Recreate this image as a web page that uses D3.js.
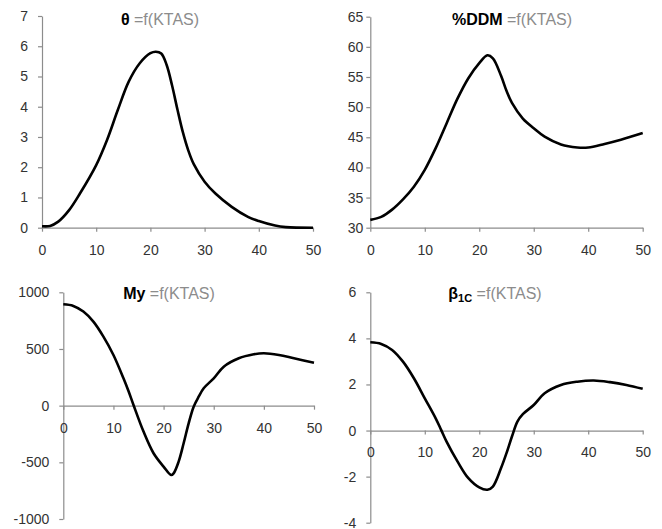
<!DOCTYPE html>
<html>
<head>
<meta charset="utf-8">
<script src="https://cdn.jsdelivr.net/npm/d3@7"></script>
<style>
  body { margin: 0; background: #fff; }
  svg { display: block; font-family: "Liberation Sans", Arial, sans-serif; }
</style>
</head>
<body>
<svg width="662" height="529"></svg>
<script>
// KTAS tick labels shared by all panels
const xTicks = [0, 10, 20, 30, 40, 50];

// theta = f(KTAS)
const thetaX = [0, 1.5, 3, 5, 7, 10, 12, 14, 16, 18, 20, 21, 22, 23, 24, 25, 26, 27, 28, 30, 32, 35, 38, 40, 43, 45, 50];
const thetaY = [0.05, 0.06, 0.2, 0.58, 1.13, 2.07, 2.9, 3.9, 4.83, 5.43, 5.77, 5.82, 5.76, 5.38, 4.7, 3.9, 3.15, 2.55, 2.1, 1.52, 1.13, 0.69, 0.36, 0.22, 0.07, 0.02, 0];
const thetaTicks = [0, 1, 2, 3, 4, 5, 6, 7];

// %DDM = f(KTAS)
const ddmX = [0, 2, 4, 6, 8, 10, 12, 14, 16, 18, 20, 21.5, 22.5, 24, 25, 26, 28, 30, 32, 35, 38, 40, 43, 46, 50];
const ddmY = [31.3, 31.8, 33.0, 34.7, 36.8, 39.6, 43.2, 47.3, 51.4, 54.8, 57.3, 58.6, 58.1, 55.2, 52.7, 50.7, 48.1, 46.5, 45.1, 43.8, 43.3, 43.3, 43.9, 44.6, 45.7];
const ddmTicks = [30, 35, 40, 45, 50, 55, 60, 65];

// My = f(KTAS)
const myX = [0, 2, 4, 6, 8, 10, 12, 13, 14, 16, 18, 20, 21.5, 22, 23, 24, 25, 26, 27, 28, 30, 32, 35, 38, 40, 43, 46, 50];
const myY = [894, 880, 830, 741, 609, 447, 241, 129, 6, -229, -420, -538, -612, -597, -494, -332, -156, -9, 79, 153, 241, 344, 418, 453, 462, 447, 418, 379];
const myTicks = [-1000, -500, 0, 500, 1000];

// beta1c = f(KTAS)
const betaX = [0, 2, 4, 6, 8, 10, 12, 13, 14, 16, 18, 20, 21.5, 22.5, 24, 25, 26, 27, 28, 30, 32, 35, 38, 41, 44, 47, 50];
const betaY = [3.83, 3.76, 3.5, 2.99, 2.27, 1.4, 0.53, 0.03, -0.48, -1.34, -2.07, -2.47, -2.57, -2.43, -1.63, -0.98, -0.26, 0.39, 0.71, 1.11, 1.62, 1.98, 2.12, 2.17, 2.1, 1.98, 1.81];
const betaTicks = [-4, -2, 0, 2, 4, 6];

const AXIS = '#8c8c8c';
const LABEL = '#333';
const SUB = '#8c8c8c';

const svg = d3.select("svg");
svg.append("rect").attr("width", 662).attr("height", 529).attr("fill", "#fff");

const panels = [
  { xs: thetaX, ys: thetaY, ticks: thetaTicks, x0: 42, x1: 313, yTop: 16, yBot: 227.7, yPad: 10,
    title: ["θ"], tx: 160, ty: 25 },
  { xs: ddmX, ys: ddmY, ticks: ddmTicks, x0: 370.3, x1: 642.7, yTop: 16.7, yBot: 227.7, yPad: 3,
    title: ["%DDM"], tx: 512, ty: 25 },
  { xs: myX, ys: myY, ticks: myTicks, x0: 63.3, x1: 314, yTop: 292.3, yBot: 519, yPad: 10,
    title: ["My"], tx: 169, ty: 299 },
  { xs: betaX, ys: betaY, ticks: betaTicks, x0: 370.3, x1: 642.7, yTop: 292.3, yBot: 522.7, yPad: 10,
    title: ["β", "1C"], tx: 495, ty: 299 }
];

const fmt = d => String(d);

panels.forEach(p => {
  const x = d3.scaleLinear().domain([0, 50]).range([p.x0, p.x1]);
  const y = d3.scaleLinear().domain(d3.extent(p.ticks)).range([p.yBot, p.yTop]);
  const g = svg.append("g");

  // y axis
  const ya = g.append("g")
    .attr("transform", `translate(${p.x0},0)`)
    .call(d3.axisLeft(y).tickValues(p.ticks).tickFormat(fmt)
      .tickSize(4).tickPadding(p.yPad).tickSizeOuter(0));
  // x axis sits on zero (or on the bottom for positive-only ranges)
  const xa = g.append("g")
    .attr("transform", `translate(0,${y(Math.max(0, p.ticks[0]))})`)
    .call(d3.axisBottom(x).tickValues(xTicks).tickFormat(fmt)
      .tickSize(4).tickPadding(13).tickSizeOuter(0));

  [ya, xa].forEach(a => {
    a.select(".domain").attr("stroke", AXIS).attr("stroke-width", 1.2);
    a.selectAll(".tick line").attr("stroke", AXIS).attr("stroke-width", 1.2);
    a.selectAll(".tick text").attr("fill", LABEL).style("font-size", "14px")
      .style("font-family", "\"Liberation Sans\", Arial, sans-serif");
  });

  // curve
  const line = d3.line()
    .x((d, i) => x(p.xs[i]))
    .y(d => y(d))
    .curve(d3.curveCatmullRom.alpha(0.5));
  g.append("path")
    .datum(p.ys)
    .attr("d", line)
    .attr("fill", "none")
    .attr("stroke", "#000")
    .attr("stroke-width", 2.6)
    .attr("stroke-linejoin", "round");

  // title
  const t = g.append("text")
    .attr("x", p.tx).attr("y", p.ty)
    .attr("text-anchor", "middle")
    .style("font-size", "16px");
  t.append("tspan").attr("font-weight", "bold").attr("fill", "#000").text(p.title[0]);
  if (p.title[1]) {
    t.append("tspan").attr("font-weight", "bold").attr("fill", "#000")
      .attr("dy", 3).style("font-size", "11px").text(p.title[1]);
    t.append("tspan").attr("dy", -3).attr("fill", SUB).text(" =f(KTAS)");
  } else {
    t.append("tspan").attr("fill", SUB).text(" =f(KTAS)");
  }
});
</script>
</body>
</html>
